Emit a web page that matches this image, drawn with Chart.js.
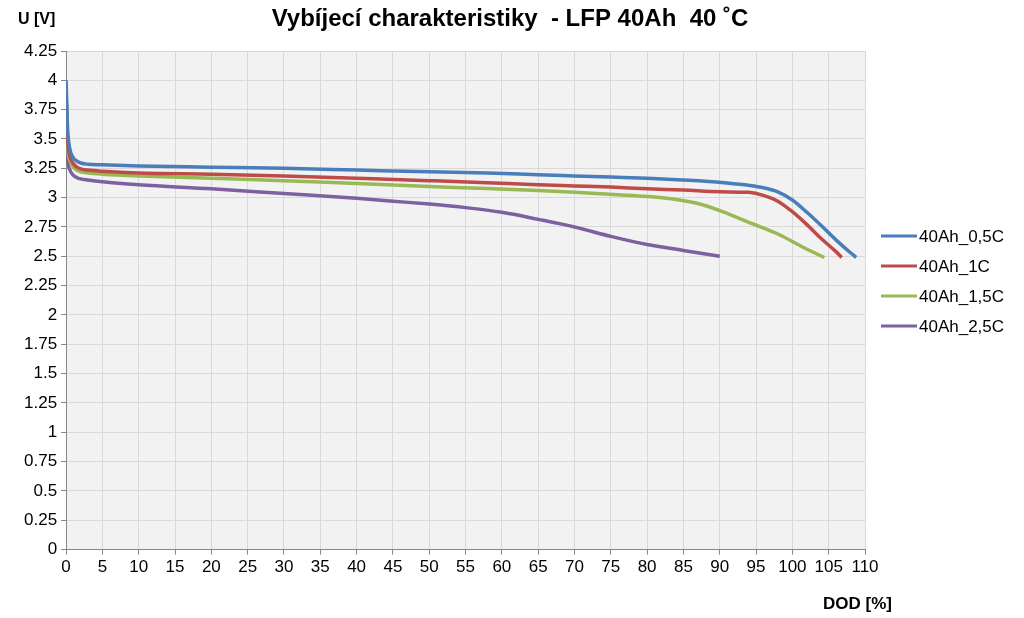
<!DOCTYPE html>
<html>
<head>
<meta charset="utf-8">
<script src="https://cdn.jsdelivr.net/npm/chart.js@4/dist/chart.umd.min.js"></script>
<style>
    html, body { margin: 0; padding: 0; background: #fff; }
    #wrap { width: 1024px; height: 618px; }
</style>
</head>
<body>
<div id="wrap"><canvas id="chart"></canvas></div>
<script>
    'use strict';

    // series names
    const seriesNames = ['40Ah_0,5C', '40Ah_1C', '40Ah_1,5C', '40Ah_2,5C'];

    // DOD [%] / U [V]
    const dod05 = [0, 0.2, 0.5, 1, 1.5, 2, 3, 5, 10, 20, 30, 40, 50, 58, 65, 70, 75, 80, 85, 88, 91, 94, 96, 98, 100, 102, 104, 106, 108, 108.8];
    const u05 = [4.0, 3.6, 3.42, 3.34, 3.31, 3.295, 3.285, 3.28, 3.27, 3.26, 3.25, 3.235, 3.22, 3.21, 3.195, 3.185, 3.175, 3.165, 3.15, 3.14, 3.125, 3.105, 3.085, 3.05, 2.98, 2.875, 2.76, 2.64, 2.53, 2.49];

    const dod1 = [0, 0.2, 0.5, 1, 1.5, 2, 3, 5, 10, 20, 30, 40, 50, 57, 65, 70, 75, 80, 85, 90, 94, 96, 98, 100, 102, 104, 106, 106.8];
    const u1 = [3.87, 3.5, 3.36, 3.29, 3.26, 3.245, 3.235, 3.225, 3.21, 3.2, 3.185, 3.165, 3.145, 3.13, 3.11, 3.1, 3.09, 3.075, 3.065, 3.05, 3.045, 3.02, 2.97, 2.88, 2.77, 2.65, 2.54, 2.49];

    const dod15 = [0, 0.2, 0.5, 1, 1.5, 2, 3, 5, 10, 20, 30, 40, 50, 57, 65, 70, 76, 80, 84, 87, 90, 94, 98, 102, 104.4];
    const u15 = [3.93, 3.45, 3.32, 3.26, 3.235, 3.22, 3.21, 3.2, 3.185, 3.165, 3.145, 3.12, 3.095, 3.08, 3.06, 3.045, 3.025, 3.01, 2.985, 2.95, 2.89, 2.79, 2.69, 2.56, 2.49];

    const dod25 = [0, 0.2, 0.5, 1, 1.5, 2, 3, 5, 10, 20, 30, 40, 45, 50, 55, 60, 65, 70, 75, 80, 85, 90];
    const u25 = [3.82, 3.35, 3.24, 3.19, 3.17, 3.16, 3.15, 3.135, 3.11, 3.075, 3.035, 2.995, 2.97, 2.945, 2.915, 2.875, 2.815, 2.75, 2.67, 2.6, 2.55, 2.5];

    const seriesColors = ['#4a7ebb', '#be4b48', '#98b954', '#7d60a0'];

    const titleText = 'Vybíjecí charakteristiky  - LFP 40Ah  40 ˚C';
    const yTitle = 'U [V]';
    const xTitle = 'DOD [%]';

    const FONT = '"Liberation Sans", Arial, sans-serif';

    const toPoints = function (xs, ys) {
        let pts = [];
        for (let i = 0; i < xs.length; i++) {
            pts.push({x: xs[i], y: ys[i]});
        }
        return pts;
    };

    const allX = [dod05, dod1, dod15, dod25];
    const allY = [u05, u1, u15, u25];

    let datasets = [];
    for (let i = 0; i < seriesNames.length; i++) {
        datasets.push({
            label: seriesNames[i],
            data: toPoints(allX[i], allY[i]),
            borderColor: seriesColors[i],
            backgroundColor: seriesColors[i],
            borderWidth: 3.5,
            pointRadius: 0,
            cubicInterpolationMode: 'monotone',
            fill: false
        });
    }

    // grey plot background, titles and the legend on the right
    const decor = {
        id: 'decor',
        beforeDraw: function (chart) {
            const a = chart.chartArea;
            const ctx = chart.ctx;
            ctx.save();
            ctx.fillStyle = '#f2f2f2';
            ctx.fillRect(a.left, a.top, a.right - a.left, a.bottom - a.top);
            ctx.restore();
        },
        afterDraw: function (chart) {
            const ctx = chart.ctx;
            ctx.save();
            ctx.fillStyle = '#000';
            ctx.textBaseline = 'middle';

            // chart title, centred on the whole picture
            ctx.textAlign = 'center';
            ctx.font = 'bold 24px ' + FONT;
            ctx.fillText(titleText, 510, 19);

            ctx.textAlign = 'left';
            ctx.font = 'bold 16px ' + FONT;
            ctx.fillText(yTitle, 18, 20);
            ctx.font = 'bold 17px ' + FONT;
            ctx.fillText(xTitle, 823, 604);

            // legend
            ctx.font = '17px ' + FONT;
            chart.data.datasets.forEach(function (ds, i) {
                let y = 236 + i * 30;
                ctx.strokeStyle = ds.borderColor;
                ctx.lineWidth = 3;
                ctx.beginPath();
                ctx.moveTo(881, y);
                ctx.lineTo(917, y);
                ctx.stroke();
                ctx.fillText(ds.label, 919, y + 1);
            });
            ctx.restore();
        }
    };

    Chart.defaults.font.family = FONT;
    Chart.defaults.color = '#000';

    new Chart(document.querySelector('#chart'), {
        type: 'line',
        data: {datasets: datasets},
        plugins: [decor],
        options: {
            responsive: true,
            maintainAspectRatio: false,
            animation: false,
            layout: {padding: {top: 51, left: 20, right: 159, bottom: 37}},
            plugins: {
                title: {display: false},
                legend: {display: false},
                tooltip: {enabled: false}
            },
            scales: {
                x: {
                    type: 'linear',
                    min: 0,
                    max: 110,
                    ticks: {stepSize: 5, font: {size: 17}, color: '#000', padding: 3, maxRotation: 0},
                    grid: {color: '#d9d9d9', tickColor: '#868686', tickLength: 5},
                    border: {color: '#868686'}
                },
                y: {
                    type: 'linear',
                    min: 0,
                    max: 4.25,
                    ticks: {
                        stepSize: 0.25,
                        font: {size: 17},
                        color: '#000',
                        padding: 4,
                        callback: function (v) { return String(+v.toFixed(2)); }
                    },
                    grid: {color: '#d9d9d9', tickColor: '#868686', tickLength: 5},
                    border: {color: '#868686'}
                }
            }
        }
    });
</script>
</body>
</html>
